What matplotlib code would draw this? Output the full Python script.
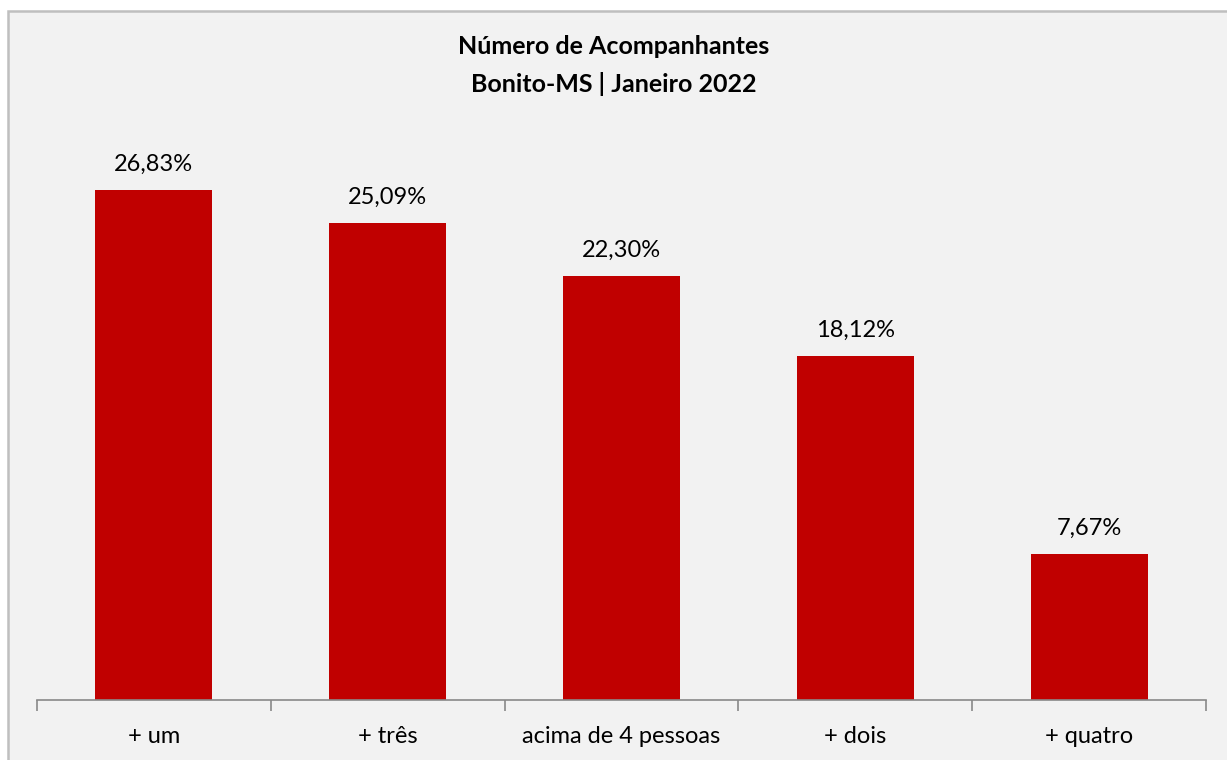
import matplotlib.pyplot as plt
from matplotlib.patches import Rectangle
import numpy as np

categorias = ['+ um', '+ três', 'acima de 4 pessoas', '+ dois', '+ quatro']
percentuais = [26.83, 25.09, 22.30, 18.12, 7.67]
rotulos = ['26,83%', '25,09%', '22,30%', '18,12%', '7,67%']

plt.rcParams['font.family'] = ['Lato', 'DejaVu Sans']

fig = plt.figure(figsize=(12.27, 7.6), dpi=100)
fig.patch.set_facecolor('white')

# moldura do grafico (direita e base ficam fora da imagem)
fig.patches.append(Rectangle((8 / 1227, -0.02), 1.0, 1.02 - 11 / 760,
                             transform=fig.transFigure, facecolor='#F2F2F2',
                             edgecolor='#BFBFBF', linewidth=1.8, zorder=-5))

ax = fig.add_axes([37 / 1227, 60 / 760, 1169 / 1227, 570 / 760])
ax.set_facecolor('none')
ax.set_zorder(2)

x = np.arange(len(categorias))
ax.bar(x, percentuais, width=0.5, color='#C00000', zorder=2)

for xi, v, r in zip(x, percentuais, rotulos):
    ax.annotate(r, (xi, v), xytext=(0, 11), textcoords='offset points',
                ha='center', va='bottom', fontsize=17, color='black')

ax.set_xlim(-0.5, len(categorias) - 0.5)
ax.set_ylim(0, 30)

for s in ['top', 'right', 'left']:
    ax.spines[s].set_visible(False)
ax.spines['bottom'].set_color('#898989')
ax.spines['bottom'].set_linewidth(1.2)

ax.set_yticks([])
ax.set_xticks(x)
ax.set_xticklabels(categorias, fontsize=17)
ax.tick_params(axis='x', which='major', length=0, pad=19)
ax.set_xticks(np.arange(-0.5, len(categorias)), minor=True)
ax.tick_params(axis='x', which='minor', length=8, width=1.2, color='#898989')

fig.text(0.5, 1 - 47 / 760, 'Número de Acompanhantes', ha='center', va='center',
         fontsize=18, fontweight='bold')
fig.text(0.5, 1 - 84 / 760, 'Bonito-MS | Janeiro 2022', ha='center', va='center',
         fontsize=18, fontweight='bold')

plt.savefig('out.png', dpi=100)
